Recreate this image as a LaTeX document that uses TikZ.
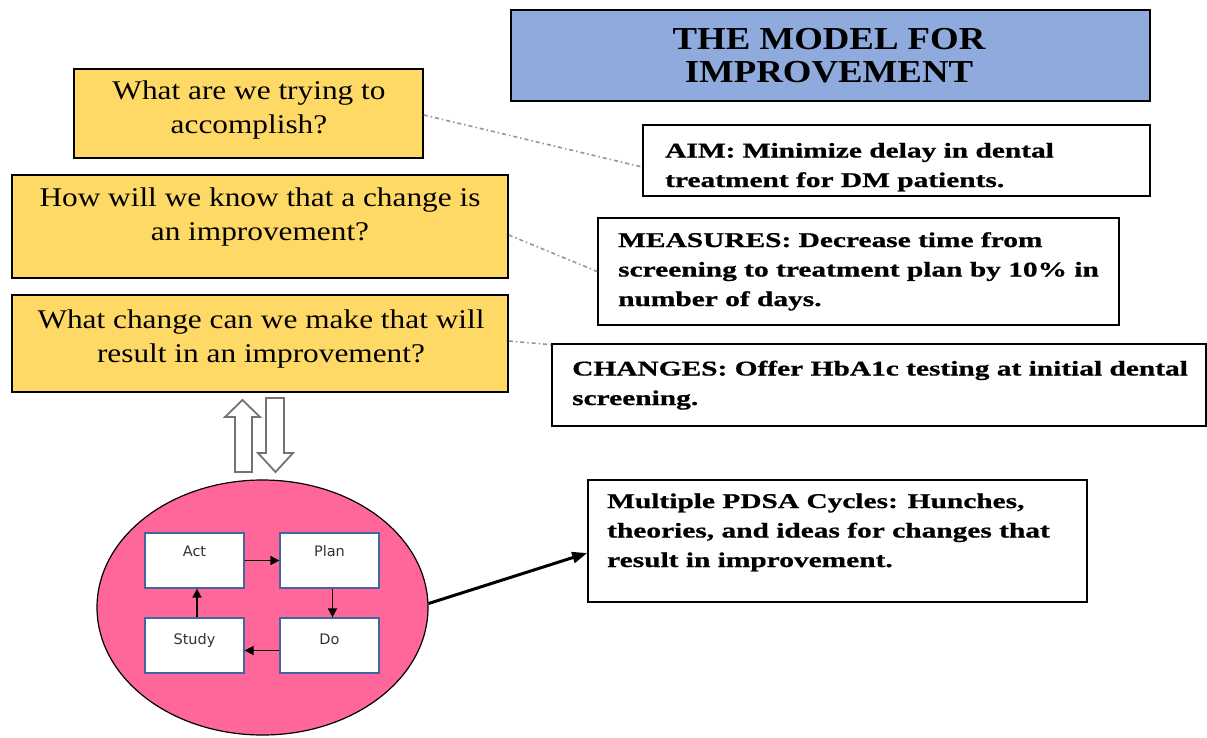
\documentclass[tikz,border=0pt]{standalone}
\usepackage{fontspec}
\setmainfont{Liberation Serif}
\newfontfamily\questfont{Liberation Serif}[FakeStretch=1.16]
\newfontfamily\notefont{Liberation Serif}[FakeStretch=1.40, BoldFeatures={FakeBold=0.8}]
\newfontfamily\headfont{Liberation Serif}[FakeStretch=1.15]
\newfontfamily\cyclefont{DejaVu Sans}
\usetikzlibrary{shapes.geometric,arrows.meta}

\definecolor{qyellow}{RGB}{255,217,102}
\definecolor{headblue}{RGB}{143,170,220}
\definecolor{cyclepink}{RGB}{255,102,153}
\definecolor{stepedge}{RGB}{68,100,160}
\definecolor{linkgray}{RGB}{150,150,150}
\definecolor{hollowgray}{RGB}{115,115,115}

\tikzset{
  box/.style={rectangle, draw=black, line width=1.6pt, inner sep=0pt},
  qbox/.style={box, fill=qyellow},
  nbox/.style={box, fill=white},
  headbox/.style={box, fill=headblue},
  % multi-line texts are placed by the baseline of their last line
  qtext/.style={inner sep=0pt, anchor=base, align=center,
    font=\questfont\fontsize{27}{34}\selectfont},
  ntext/.style={inner sep=0pt, anchor=base west, align=left,
    font=\notefont\bfseries\fontsize{21}{29.5}\selectfont},
  headtext/.style={inner sep=0pt, anchor=base, align=center,
    font=\headfont\bfseries\fontsize{32}{33}\selectfont},
  stepbox/.style={rectangle, draw=stepedge, line width=1.2pt, fill=white,
    minimum width=99pt, minimum height=55pt, inner sep=0pt},
  steplabel/.style={inner sep=0pt, anchor=base, text=black!80,
    font=\cyclefont\fontsize{14.5}{16}\selectfont},
  steparrow/.style={-{Triangle[length=9pt,width=9pt]}, line width=1.5pt},
  link/.style={draw=linkgray, line width=1.6pt,
    dash pattern=on 4pt off 3pt on 1.5pt off 3pt},
  hollow/.style={draw=hollowgray, line width=1.8pt, fill=white, line join=miter},
}

\begin{document}
\begin{tikzpicture}[x=1pt,y=-1pt]
\useasboundingbox (0,0) rectangle (1207,737);

% heading
\node[headbox, minimum width=639pt, minimum height=91pt] (head) at (830.5,55.5) {};
\node[headtext] (headt) at (829,82) {THE MODEL FOR\\IMPROVEMENT};

% the three questions
\node[qbox, minimum width=349pt, minimum height=89pt] (q1) at (248.5,113.5) {};
\node[qtext] (q1t) at (249,133) {What are we trying to\\accomplish?};

\node[qbox, minimum width=496pt, minimum height=103pt] (q2) at (260,226.5) {};
\node[qtext] (q2t) at (260,240) {How will we know that a change is\\an improvement?};

\node[qbox, minimum width=496pt, minimum height=97pt] (q3) at (260,343.5) {};
\node[qtext] (q3t) at (261,362) {What change can we make that will\\result in an improvement?};

% the answers
\node[nbox, minimum width=507pt, minimum height=71pt] (aim) at (896.5,160.5) {};
\node[ntext] (aimt) at (665,187) {AIM: Minimize delay in dental\\treatment for DM patients.};

\node[nbox, minimum width=521pt, minimum height=107pt] (meas) at (858.5,271.5) {};
\node[ntext] (meast) at (618,306) {MEASURES: Decrease time from\\screening to treatment plan by 10\% in\\number of days.};

\node[nbox, minimum width=654pt, minimum height=82pt] (chg) at (879,385) {};
\node[ntext] (chgt) at (572,405) {CHANGES: Offer HbA1c testing at initial dental\\screening.};

\node[nbox, minimum width=499pt, minimum height=122pt] (pdsa) at (837.5,541) {};
\node[ntext] (pdsat) at (607,567) {Multiple PDSA Cycles: Hunches,\\theories, and ideas for changes that\\result in improvement.};

% dash-dot links between questions and answers
\draw[link] ([yshift=-1.5pt]q1.east) -- ([yshift=-6.5pt]aim.west);
\draw[link] ([yshift=-8.5pt]q2.east) -- (meas.west);
\draw[link] ([yshift=2.5pt]q3.east) -- ([yshift=-1.5pt]chg.north west);

% hollow up and down arrows
\draw[hollow] (242.5,400) -- (260,417) -- (252,417) -- (252,472) -- (235,472)
  -- (235,417) -- (225,417) -- cycle;
\draw[hollow] (266,398) -- (284,398) -- (284,453) -- (293,453) -- (275.5,472)
  -- (258,453) -- (266,453) -- cycle;

% PDSA cycle
\node[ellipse, draw=black, line width=1.2pt, fill=cyclepink,
  minimum width=331pt, minimum height=255pt, inner sep=0pt] (cyc) at (262.5,607.5) {};

\node[stepbox] (act) at (194.5,560.5) {};
\node[stepbox] (plan) at (329.5,560.5) {};
\node[stepbox] (study) at (194.5,645.5) {};
\node[stepbox] (do) at (329.5,645.5) {};
\node[steplabel] (actt) at ([yshift=-24pt]act.north) {Act};
\node[steplabel] (plant) at ([yshift=-24pt]plan.north) {Plan};
\node[steplabel] (studyt) at ([yshift=-27pt]study.north) {Study};
\node[steplabel] (dot) at ([yshift=-27pt]do.north) {Do};

\draw[steparrow] (act.east) -- (plan.west);
\draw[steparrow] ([xshift=3pt]plan.south) -- ([xshift=3pt]do.north);
\draw[steparrow] ([yshift=-5pt]do.west) -- ([yshift=-5pt]study.east);
\draw[steparrow] ([xshift=2.5pt]study.north) -- ([xshift=2.5pt]act.south);

% cycle to explanation
\draw[-{Triangle[length=15pt,width=11pt]}, line width=3pt]
  ([yshift=4pt]cyc.east) -- ([yshift=-12pt]pdsa.west);
\end{tikzpicture}
\end{document}
